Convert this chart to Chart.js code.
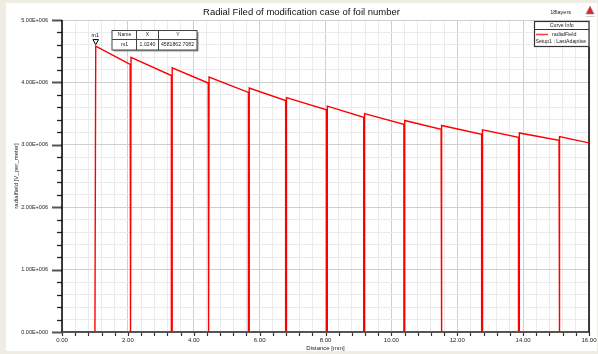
<!DOCTYPE html>
<html>
<head>
<meta charset="utf-8">
<title>Radial Filed of modification case of foil number</title>
<script src="https://cdn.jsdelivr.net/npm/chart.js@4.4.1/dist/chart.umd.min.js"></script>
<style>
    html, body { margin: 0; padding: 0; background: #efece3; }
    #wrap { position: relative; width: 598px; height: 354px; }
</style>
</head>
<body>
<div id="wrap"><canvas id="radialChart" width="598" height="354"></canvas></div>
<script>
// field is zero in the gaps, rises at riseX, then falls off across each foil
var riseX       = [1.000, 2.090, 3.340, 4.460, 5.680, 6.810, 8.050, 9.180, 10.400, 11.530, 12.760, 13.880, 15.110];
var segStartX   = [1.024, 2.095, 3.345, 4.465, 5.685, 6.815, 8.055, 9.185, 10.405, 11.535, 12.765, 13.885, 15.115];
var segEndX     = [2.070, 3.320, 4.440, 5.660, 6.790, 8.030, 9.160, 10.380, 11.510, 12.740, 13.860, 15.090, 16.000];
var segStartVal = [4581862.7082, 4400000, 4235000, 4085000, 3910000, 3755000, 3620000, 3500000, 3390000, 3310000, 3240000, 3190000, 3130000];
var segEndVal   = [4290000, 4110000, 3990000, 3840000, 3710000, 3560000, 3440000, 3330000, 3250000, 3170000, 3120000, 3070000, 3030000];

// marker m1
var markerName = 'm1';
var markerX = 1.0240;
var markerY = 4581862.7082;

var chartTitle = 'Radial Filed of modification case of foil number';
var projectName = '18layers';
var curveName = 'radialField';
var setupName = 'Setup1 : LastAdaptive';
var xTitle = 'Distance [mm]';
var yTitle = 'radialfield [V_per_meter]';

(function () {
    "use strict";

    var FONT = '"Liberation Sans", Arial, sans-serif';

    function sciLabel(v) {
        if (v === 0) return '0.00E+000';
        var e = Math.floor(Math.log10(v) + 1e-9);
        var m = v / Math.pow(10, e);
        return m.toFixed(2) + 'E+' + String(e).padStart(3, '0');
    }
    function isMajorX(v) { return Math.round(v * 10) % 20 === 0; }
    function isMajorY(v) { return Math.round(v / 1e5) % 10 === 0; }

    // build the polyline from the segment arrays
    var points = [{x: 0, y: 0}];
    for (var i = 0; i < segStartX.length; i++) {
        points.push({x: riseX[i], y: 0});
        points.push({x: segStartX[i], y: segStartVal[i]});
        points.push({x: segEndX[i], y: segEndVal[i]});
        if (i < segStartX.length - 1) points.push({x: segEndX[i], y: 0});
    }

    function line(ctx, x1, y1, x2, y2, color, w) {
        ctx.beginPath();
        ctx.strokeStyle = color;
        ctx.lineWidth = w;
        ctx.moveTo(x1, y1);
        ctx.lineTo(x2, y2);
        ctx.stroke();
    }
    function text(ctx, s, x, y, size, align, color) {
        ctx.font = size + 'px ' + FONT;
        ctx.textAlign = align || 'left';
        ctx.textBaseline = 'middle';
        ctx.fillStyle = color || '#000';
        ctx.fillText(s, x, y);
    }

    var framePlugin = {
        id: 'frame',
        beforeDraw: function (chart) {
            var ctx = chart.ctx;
            ctx.save();
            ctx.fillStyle = '#efece3';
            ctx.fillRect(0, 0, chart.width, chart.height);
            ctx.fillStyle = '#ffffff';
            ctx.fillRect(6, 3, 591, 348);
            ctx.restore();
        },
        beforeDatasetsDraw: function (chart) {
            var ctx = chart.ctx, a = chart.chartArea;
            var xs = chart.scales.x, ys = chart.scales.y;
            ctx.save();
            // y ticks
            ys.ticks.forEach(function (t) {
                var py = Math.round(ys.getPixelForValue(t.value)) + 0.5;
                if (isMajorY(t.value)) line(ctx, a.left - 10, py, a.left, py, '#555', 2);
                else line(ctx, a.left - 5, py, a.left, py, '#222', 1.3);
            });
            // x ticks
            xs.ticks.forEach(function (t) {
                var px = Math.round(xs.getPixelForValue(t.value)) + 0.5;
                line(ctx, px, a.bottom, px, a.bottom + 4, '#333', 1.2);
            });
            line(ctx, a.left, a.bottom, a.right, a.bottom, '#555', 2);
            line(ctx, a.left, a.top, a.left, a.bottom, '#000', 1.5);
            line(ctx, a.right, 47, a.right, a.bottom, '#000', 1.5);
            ctx.restore();
        },
        afterDraw: function (chart) {
            var ctx = chart.ctx, a = chart.chartArea;
            var xs = chart.scales.x, ys = chart.scales.y;
            ctx.save();

            // title and project name
            text(ctx, chartTitle, 301.5, 12, 9.5, 'center', '#111');
            text(ctx, projectName, 571, 12.5, 5.5, 'right', '#222');
            // small logo
            ctx.beginPath();
            ctx.moveTo(590, 6); ctx.lineTo(586, 14); ctx.lineTo(594, 14); ctx.closePath();
            ctx.fillStyle = '#d8262b'; ctx.fill();
            ctx.strokeStyle = '#888'; ctx.lineWidth = 0.6; ctx.stroke();
            text(ctx, 'ANSOFT', 590, 16, 2.5, 'center', '#888');

            // axis titles
            text(ctx, xTitle, (a.left + a.right) / 2, 348, 6, 'center', '#222');
            ctx.save();
            ctx.translate(16, (a.top + a.bottom) / 2);
            ctx.rotate(-Math.PI / 2);
            text(ctx, yTitle, 0, 0, 6, 'center', '#222');
            ctx.restore();

            // curve info box
            var lx = 534.5, ly = 21.5, lw = a.right - lx, lh = 25;
            ctx.fillStyle = '#fff';
            ctx.fillRect(lx, ly, lw, lh);
            ctx.strokeStyle = '#333'; ctx.lineWidth = 1.2;
            ctx.strokeRect(lx, ly, lw, lh);
            line(ctx, lx, 29.5, lx + lw, 29.5, '#333', 1);
            text(ctx, 'Curve Info', lx + lw / 2, 25.5, 5.2, 'center', '#222');
            line(ctx, 536, 34.5, 548, 34.5, '#ff4040', 1.6);
            text(ctx, curveName, 552, 34.5, 5.3, 'left', '#222');
            text(ctx, setupName, 535.5, 42, 5.2, 'left', '#222');

            // marker m1
            var mx = xs.getPixelForValue(markerX), my = ys.getPixelForValue(markerY);
            ctx.beginPath();
            ctx.moveTo(mx - 2.8, my - 6.5);
            ctx.lineTo(mx + 2.8, my - 6.5);
            ctx.lineTo(mx, my - 1.5);
            ctx.closePath();
            ctx.fillStyle = '#fff'; ctx.fill();
            ctx.strokeStyle = '#000'; ctx.lineWidth = 1; ctx.stroke();
            text(ctx, markerName, mx - 0.5, my - 10.5, 5.3, 'center', '#111');

            // marker data table
            var tx = 112, ty = 30.5, tw = 85, th = 19.5, hy = 39.5;
            ctx.fillStyle = '#999';
            ctx.fillRect(tx + 1.5, ty + 1.5, tw, th);
            ctx.fillStyle = '#fff';
            ctx.fillRect(tx, ty, tw, th);
            ctx.strokeStyle = '#444'; ctx.lineWidth = 1;
            ctx.strokeRect(tx, ty, tw, th);
            line(ctx, tx, hy, tx + tw, hy, '#444', 1);
            line(ctx, 136.5, ty, 136.5, ty + th, '#444', 1);
            line(ctx, 158.5, ty, 158.5, ty + th, '#444', 1);
            text(ctx, 'Name', 124.5, 35, 5, 'center', '#222');
            text(ctx, 'X', 147.5, 35, 5, 'center', '#222');
            text(ctx, 'Y', 178, 35, 5, 'center', '#222');
            text(ctx, markerName, 124.5, 45, 5.2, 'center', '#222');
            text(ctx, markerX.toFixed(4), 147.5, 45, 5.2, 'center', '#222');
            text(ctx, markerY.toFixed(4), 177.5, 45, 5.2, 'center', '#222');

            ctx.restore();
        }
    };

    var ctx = document.getElementById('radialChart').getContext('2d');
    new Chart(ctx, {
        type: 'line',
        data: {
            datasets: [{
                label: curveName,
                data: points,
                borderColor: '#ff0000',
                borderWidth: 1.4,
                pointRadius: 0,
                tension: 0,
                fill: false
            }]
        },
        options: {
            responsive: false,
            animation: false,
            devicePixelRatio: 1,
            layout: { autoPadding: false, padding: { left: 0, right: 9, top: 20, bottom: 0 } },
            plugins: {
                legend: { display: false },
                title: { display: false },
                tooltip: { enabled: false }
            },
            scales: {
                x: {
                    type: 'linear',
                    min: 0,
                    max: 16,
                    afterFit: function (scale) { scale.height = 22; },
                    border: { display: false },
                    grid: {
                        drawTicks: true,
                        tickLength: 5,
                        tickColor: 'rgba(0,0,0,0)',
                        color: function (c) { return isMajorX(c.tick.value) ? '#cfcfcf' : '#ebebeb'; },
                        lineWidth: 1
                    },
                    ticks: {
                        stepSize: 0.4,
                        autoSkip: false,
                        maxRotation: 0,
                        padding: 0,
                        color: '#222',
                        font: { family: FONT, size: 6 },
                        callback: function (v) { return isMajorX(v) ? v.toFixed(2) : ''; }
                    }
                },
                y: {
                    type: 'linear',
                    min: 0,
                    max: 5000000,
                    afterFit: function (scale) { scale.width = 62; },
                    border: { display: false },
                    grid: {
                        drawTicks: false,
                        color: function (c) { return isMajorY(c.tick.value) ? '#cfcfcf' : '#ebebeb'; },
                        lineWidth: 1
                    },
                    ticks: {
                        stepSize: 200000,
                        autoSkip: false,
                        padding: 14,
                        color: '#222',
                        font: { family: FONT, size: 5.5 },
                        callback: function (v) { return isMajorY(v) ? sciLabel(v) : ''; }
                    }
                }
            }
        },
        plugins: [framePlugin]
    });
}());
</script>
</body>
</html>
